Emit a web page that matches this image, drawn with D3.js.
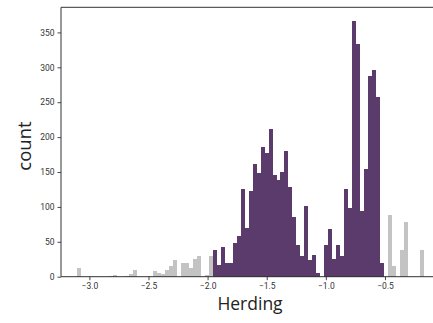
<!DOCTYPE html>
<html><head><meta charset="utf-8">
<script src="https://cdn.jsdelivr.net/npm/d3@7"></script>
<style>
html,body{margin:0;padding:0;background:#fff;}
svg{display:block;}
</style></head>
<body>
<svg id="chart" width="433" height="323"></svg>
<script>
// Histogram bins (shared by both groups)
const binStart = -3.1007;
const binWidth = 0.03367;
// counts outside the highlighted range (grey)
const greyCounts = [12,0,0,0,0,0,0,0,1,2, 0,0,1,4,10,0,0,0,0,8, 6,4,9,16,24,0,20,19,13,26, 30,0,2,30,
  0,0,0,0,0,0,0,0,0,0, 0,0,0,0,0,0,0,0,0,0, 0,0,0,0,0,0,0,0,0,0, 0,0,0,0,0,0,0,0,0,0, 0,0,0,
  0,88,15,0,38,79,0,0,0,38];
// counts in the highlighted range (purple)
const purpleCounts = [0,0,0,0,0,0,0,0,0,0, 0,0,0,0,0,0,0,0,0,0, 0,0,0,0,0,0,0,0,0,0, 0,0,0,0,
  38,17,42,20,19,49,59,126,70,123, 161,149,186,177,212,146,139,150,180,128,
  86,46,29,102,24,31,6,0,45,68, 26,45,29,125,99,366,334,94,155,288, 296,257,19,
  0,0,0,0,0,0,0,0,0,0];
const xTicks = [-3.0,-2.5,-2.0,-1.5,-1.0,-0.5];
const yTicks = [0,50,100,150,200,250,300,350];
const xLabel = "Herding";
const yLabel = "count";

const svg = d3.select("#chart");
const mLeft = 61, mRight = 441, mTop = 7.3, mBottom = 276.7;
const x = d3.scaleLinear().domain([-3.24, -0.026]).range([mLeft, mRight]);
const y = d3.scaleLinear().domain([0, 386]).range([mBottom, mTop]);

const bins = greyCounts.map((g, i) => ({
  x0: binStart + i * binWidth,
  x1: binStart + (i + 1) * binWidth,
  grey: g,
  purple: purpleCounts[i]
}));

const drawBars = (key, color) => {
  svg.append("g").selectAll("rect")
    .data(bins.filter(d => d[key] > 0))
    .join("rect")
    .attr("x", d => x(d.x0))
    .attr("width", d => x(d.x1) - x(d.x0))
    .attr("y", d => y(d[key]))
    .attr("height", d => y(0) - y(d[key]))
    .attr("fill", color)
    .attr("shape-rendering", "crispEdges");
};
drawBars("grey", "#c3c3c3");
drawBars("purple", "#5b3a6c");

// axes
const fmt = d => (d < 0 ? "\u2212" : "") + Math.abs(d).toFixed(1);
const xAxis = svg.append("g").attr("transform", `translate(0,${mBottom})`)
  .call(d3.axisBottom(x).tickValues(xTicks).tickFormat(fmt).tickSize(3.5).tickPadding(3));
const yAxis = svg.append("g").attr("transform", `translate(${mLeft},0)`)
  .call(d3.axisLeft(y).tickValues(yTicks).tickSize(3.5).tickPadding(3));
[xAxis, yAxis].forEach(a => {
  a.select(".domain").remove();
  a.selectAll(".tick line").attr("stroke", "#333").attr("stroke-width", 0.9);
  a.selectAll(".tick text").attr("fill", "#333").attr("font-family", "Roboto, sans-serif").attr("font-size", 8.5);
});

// spines
const spine = (x1, y1, x2, y2) => svg.append("line").attr("x1", x1).attr("y1", y1).attr("x2", x2).attr("y2", y2)
  .attr("stroke", "#333").attr("stroke-width", 1);
spine(mLeft, mTop, mLeft, mBottom);
spine(mLeft, mBottom, mRight, mBottom);
spine(mLeft, mTop, mRight, mTop);
spine(mRight, mTop, mRight, mBottom);

svg.append("text").attr("x", 250).attr("y", 309.5)
  .attr("text-anchor", "middle").attr("font-family", "'Open Sans', sans-serif").attr("font-size", 17.5)
  .attr("fill", "#222").text(xLabel);
svg.append("text").attr("transform", `translate(31,146) rotate(-90)`)
  .attr("text-anchor", "middle").attr("font-family", "'Open Sans', sans-serif").attr("font-size", 18.5)
  .attr("fill", "#222").text(yLabel);
</script>
</body></html>
